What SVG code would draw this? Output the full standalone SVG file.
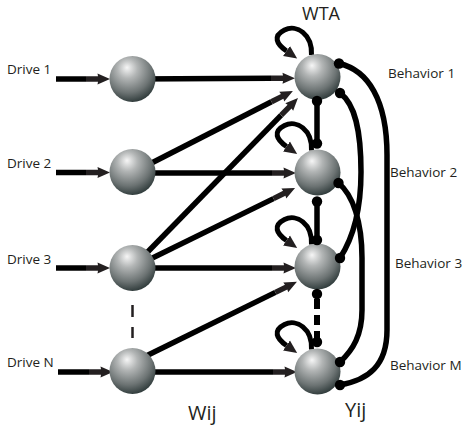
<svg xmlns="http://www.w3.org/2000/svg" width="469" height="430" viewBox="0 0 469 430">
<style>
.t{font-family:"Open Sans","Liberation Sans",sans-serif;font-size:13.5px;fill:#231f20}
.big{font-family:"Open Sans","Liberation Sans",sans-serif;font-size:20px;fill:#231f20}
.ln{stroke:#000;stroke-width:5.5;fill:none}
.ar{stroke:#000;stroke-width:5.5;fill:none;marker-end:url(#arr)}
.lp{stroke:#000;stroke-width:5;fill:none;marker-end:url(#tri)}
.dot{fill:#000}
.sph{fill:url(#g)}
</style>
<defs>
<radialGradient id="g" cx="0.42" cy="0.32" r="0.72" fx="0.38" fy="0.25">
<stop offset="0" stop-color="#f6f6f6"/>
<stop offset="0.3" stop-color="#b2b5b5"/>
<stop offset="0.7" stop-color="#6c7373"/>
<stop offset="1" stop-color="#283434"/>
</radialGradient>
<marker id="arr" markerUnits="userSpaceOnUse" viewBox="0 -8 26 16" markerWidth="26" markerHeight="16" refX="0" refY="0" orient="auto">
<path d="M0,-2.75 L12,-2.75 L11.5,-5.5 L24,0 L11.5,5.5 L12,2.75 L0,2.75 Z" fill="#231f20"/>
</marker>
<marker id="tri" markerUnits="userSpaceOnUse" viewBox="0 -7 14 14" markerWidth="14" markerHeight="14" refX="0" refY="0" orient="auto">
<path d="M0,-6 L13,0 L0,6 Z" fill="#231f20"/>
</marker>
</defs>

<g id="connectors">
<path class="ar" d="M56,79 L86,79"/>
<path class="ar" d="M56,172.5 L86,172.5"/>
<path class="ar" d="M56,268 L86,268"/>
<path class="ar" d="M58,372 L89,372"/>
<path class="ar" d="M132,79 L271,78.3"/>
<path class="ar" d="M132,173 L271.5,101.8"/>
<path class="ar" d="M132,173 L272,173"/>
<path class="ar" d="M132,268 L281.2,115.2"/>
<path class="ar" d="M132,268 L273.5,198.6"/>
<path class="ar" d="M132,268 L272,268"/>
<path class="ar" d="M142,358 L275.4,292.4"/>
<path class="ar" d="M132,372 L273,372"/>
<path d="M132.5,305 L132.5,338" stroke="#231f20" stroke-width="2.5" stroke-dasharray="12 10" fill="none"/>
<path class="ln" d="M317,101 L317,143"/>
<path class="ln" d="M317,202 L317,240"/>
<path d="M317,294 L317,342" stroke="#000" stroke-width="6" stroke-dasharray="10 6" stroke-dashoffset="-5" fill="none"/>
<path class="ln" d="M339,63.5 C368,70 387,100 387,155 L387,330 C387,366 368,380 340,385"/>
<path class="ln" d="M340,93 C355,104 361,130 361,172 C361,210 353,238 340,258"/>
<path class="ln" d="M338.5,183 C353,195 362,222 362,258 L362,310 C362,335 353,350 340,362"/>
</g>

<g id="loop1" transform="translate(317.5,77)"><path class="lp" d="M-6,-22 C-5,-43 -21,-53 -33,-47 C-45,-41 -41,-33 -31,-26"/></g>
<g id="loop2" transform="translate(317.5,172.5)"><path class="lp" d="M-6,-22 C-5,-43 -21,-53 -33,-47 C-45,-41 -41,-33 -31,-26"/></g>
<g id="loop3" transform="translate(317.5,266.5)"><path class="lp" d="M-6,-22 C-5,-43 -21,-53 -33,-47 C-45,-41 -41,-33 -31,-26"/></g>
<g id="loop4" transform="translate(317.5,371.5)"><path class="lp" d="M-6,-22 C-5,-43 -21,-53 -33,-47 C-45,-41 -41,-33 -31,-26"/></g>

<g id="drive1"><circle class="sph" cx="132.5" cy="79" r="23"/><text class="t" x="7" y="74">Drive 1</text></g>
<g id="drive2"><circle class="sph" cx="132.5" cy="172" r="23"/><text class="t" x="7" y="168">Drive 2</text></g>
<g id="drive3"><circle class="sph" cx="132.5" cy="268" r="23"/><text class="t" x="7" y="264">Drive 3</text></g>
<g id="driveN"><circle class="sph" cx="132.5" cy="371" r="23"/><text class="t" x="7" y="367">Drive N</text></g>

<g id="behavior1"><circle class="sph" cx="317.5" cy="77" r="23"/><circle class="dot" cx="339" cy="63.5" r="5.2"/><circle class="dot" cx="340" cy="93" r="5.2"/><circle class="dot" cx="317" cy="101" r="5.2"/><text class="t" x="388" y="78">Behavior 1</text></g>
<g id="behavior2"><circle class="sph" cx="317.5" cy="172.5" r="23"/><circle class="dot" cx="317" cy="143.5" r="5.2"/><circle class="dot" cx="317" cy="201.5" r="5.2"/><circle class="dot" cx="338.5" cy="183" r="5.2"/><text class="t" x="390" y="177">Behavior 2</text></g>
<g id="behavior3"><circle class="sph" cx="317.5" cy="266.5" r="23"/><circle class="dot" cx="317" cy="240" r="5.2"/><circle class="dot" cx="317" cy="294" r="5.2"/><circle class="dot" cx="340" cy="258" r="5.2"/><text class="t" x="395" y="268">Behavior 3</text></g>
<g id="behaviorM"><circle class="sph" cx="317.5" cy="371.5" r="23"/><circle class="dot" cx="317" cy="342" r="5.2"/><circle class="dot" cx="340" cy="362" r="5.2"/><circle class="dot" cx="340" cy="385" r="5.2"/><text class="t" x="390" y="370">Behavior M</text></g>

<g id="labels">
<text class="big" x="321" y="20" text-anchor="middle" style="font-size:18px">WTA</text>
<text class="big" x="188" y="420">Wij</text>
<text class="big" x="345" y="417">Yij</text>
</g>
</svg>
